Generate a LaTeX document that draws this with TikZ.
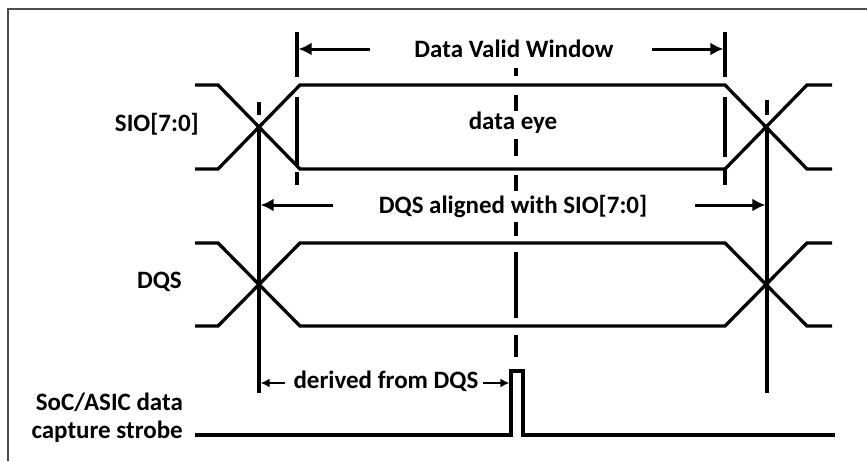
\documentclass[tikz,border=0pt]{standalone}
\usepackage{fontspec}
\setmainfont{Carlito}
\usetikzlibrary{arrows.meta}
\begin{document}
\begin{tikzpicture}[x=1pt,y=-1pt,
  sig/.style={line width=3.3pt, line join=miter},
  vline/.style={line width=3.3pt},
  frame/.style={line width=2pt, draw=black!70},
  lbl/.style={font=\fontsize{25}{29}\selectfont\bfseries, inner sep=0pt, anchor=base},
  dimarrow/.style={line width=3pt, -{Latex[length=13pt,width=13pt]}},
  smallarrow/.style={line width=2.6pt, -{Latex[length=9pt,width=9pt]}}]
\useasboundingbox (0,0) rectangle (867,461);
% frame
\draw[frame] (8,461) -- (8,9) -- (867,9);
% labels
\node[lbl] (dvw) at (514,57) {Data Valid Window};
\node[lbl] (eye) at (513,129) {data eye};
\node[lbl] (dqsal) at (513,213) {DQS aligned with SIO[7:0]};
\node[lbl] (der) at (386,388) {derived from DQS};
\node[lbl, anchor=base east] (sio) at (199,131) {SIO[7:0]};
\node[lbl, anchor=base east] (dqs) at (182,288) {DQS};
\node[lbl, anchor=base east] (soc1) at (183,410) {SoC/ASIC data};
\node[lbl, anchor=base east] (soc2) at (183,438) {capture strobe};
% SIO signal
\draw[sig] (195,85) -- (218,85) -- (300,169) -- (725,169) -- (807,85) -- (832,85);
\draw[sig] (195,169) -- (218,169) -- (300,85) -- (725,85) -- (807,169) -- (832,169);
% DQS signal
\draw[sig] (195,243) -- (218,243) -- (300,326) -- (725,326) -- (807,243) -- (832,243);
\draw[sig] (195,326) -- (218,326) -- (300,243) -- (725,243) -- (807,326) -- (832,326);
% strobe
\draw[sig] (195,435) -- (511,435) -- (511,371) -- (523,371) -- (523,435) -- (835,435);
% data valid window markers
\coordinate (dvL) at (297,49);
\coordinate (dvR) at (725,49);
\draw[vline] (297,32) -- (297,77) (297,97) -- (297,165) (297,172) -- (297,185);
\draw[vline] (725,32) -- (725,77) (725,97) -- (725,157) (725,170) -- (725,185);
% DQS edge lines
\coordinate (alL) at (259,205);
\coordinate (alR) at (767,205);
\coordinate (drL) at (259,383);
\coordinate (drR) at (511,383);
\draw[vline] (259,102) -- (259,115) (259,127) -- (259,393);
\draw[vline] (767,100) -- (767,115) (767,127) -- (767,393);
% center line
\draw[vline] (516,68) -- (516,76) (516,95) -- (516,111) (516,139) -- (516,156)
  (516,175) -- (516,191) (516,222) -- (516,236) (516,252) -- (516,318) (516,335) -- (516,357);
% dimension arrows
\draw[dimarrow] (370,49) -- ([xshift=1.6pt]dvL);
\draw[dimarrow] (652,49) -- ([xshift=-1.6pt]dvR);
\draw[dimarrow] (333,205) -- ([xshift=1.6pt]alL);
\draw[dimarrow] (695,205) -- ([xshift=-1.6pt]alR);
\draw[smallarrow] (285,383) -- ([xshift=1.6pt]drL);
\draw[smallarrow] (483,383) -- ([xshift=-1.6pt]drR);
\end{tikzpicture}
\end{document}
